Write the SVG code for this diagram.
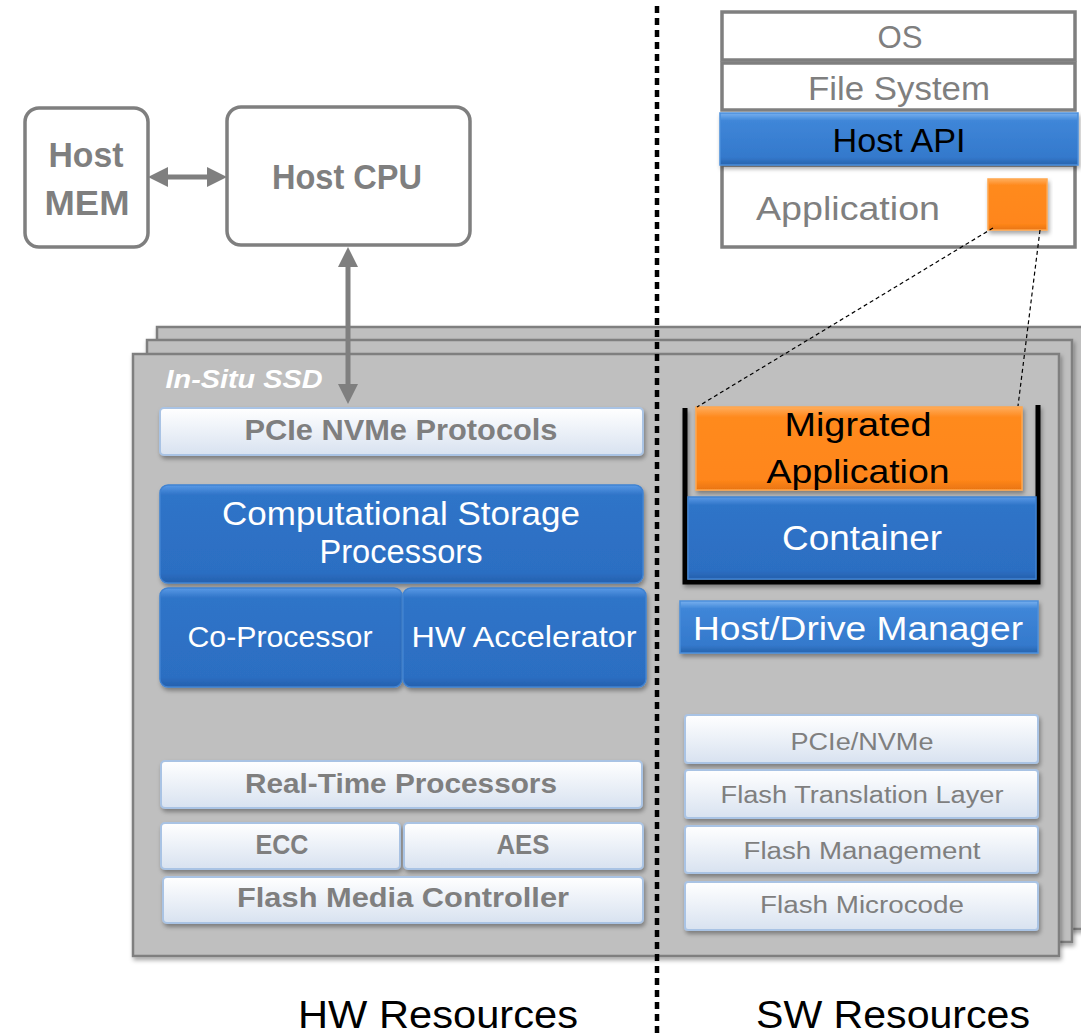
<svg xmlns="http://www.w3.org/2000/svg" width="1081" height="1034" viewBox="0 0 1081 1034">
<defs>
<style>
.t{font-family:"Liberation Sans",Arial,sans-serif;text-anchor:middle}
.g{fill:#7f7f7f}
.w{fill:#ffffff}
.k{fill:#000000}
.b{font-weight:bold}
.host{fill:#ffffff;stroke:#7f7f7f;stroke-width:3.5}
.layer{fill:#bfbfbf;stroke:#7f7f7f;stroke-width:2.5}
.light{fill:url(#lightG);stroke:#a9c3e4;stroke-width:2}
.blue{fill:url(#blueG);stroke:#3f82d2;stroke-width:1.5}
.orange{fill:url(#orangeG);stroke:#ffa64d;stroke-width:1.5}
.cell{fill:#ffffff;stroke:#7f7f7f;stroke-width:3.5}
.arrow{stroke:#7f7f7f;stroke-width:5;fill:none}
.dash{stroke:#000000;stroke-width:1.2;stroke-dasharray:4 3;fill:none}
</style>
<linearGradient id="lightG" x1="0" y1="0" x2="0" y2="1">
<stop offset="0" stop-color="#ffffff"/>
<stop offset="1" stop-color="#d8e2f0"/>
</linearGradient>
<linearGradient id="blueG" x1="0" y1="0" x2="0" y2="1">
<stop offset="0" stop-color="#5a9ae6"/>
<stop offset="0.1" stop-color="#2f74c8"/>
<stop offset="0.9" stop-color="#2c6ec2"/>
<stop offset="1" stop-color="#2560ad"/>
</linearGradient>
<linearGradient id="apiG" x1="0" y1="0" x2="0" y2="1">
<stop offset="0" stop-color="#78b0ef"/>
<stop offset="0.15" stop-color="#3f86d8"/>
<stop offset="0.85" stop-color="#3479cc"/>
<stop offset="1" stop-color="#2663ad"/>
</linearGradient>
<linearGradient id="orangeG" x1="0" y1="0" x2="0" y2="1">
<stop offset="0" stop-color="#ffad5c"/>
<stop offset="0.12" stop-color="#ff8a1e"/>
<stop offset="0.88" stop-color="#ff861a"/>
<stop offset="1" stop-color="#e87410"/>
</linearGradient>
<filter id="sh" x="-10%" y="-10%" width="120%" height="130%">
<feDropShadow dx="1.5" dy="3" stdDeviation="2" flood-color="#000" flood-opacity="0.35"/>
</filter>
<marker id="ah" viewBox="0 0 20 20" refX="0" refY="10" markerWidth="20" markerHeight="20" markerUnits="userSpaceOnUse" orient="auto-start-reverse">
<path d="M0,0 L20,10 L0,20 z" fill="#7f7f7f"/>
</marker>
</defs>
<rect width="1081" height="1034" fill="#ffffff"/>

<g id="ssd-stack">
<rect class="layer" x="157" y="327" width="930" height="602" filter="url(#sh)"/>
<rect class="layer" x="147" y="340" width="925" height="602" filter="url(#sh)"/>
<rect class="layer" x="133" y="354" width="926" height="602" filter="url(#sh)"/>
<text class="t w b" x="244" y="388" font-size="26" font-style="italic" textLength="157" lengthAdjust="spacingAndGlyphs">In-Situ SSD</text>
</g>

<g id="host-mem">
<rect class="host" x="25" y="108" width="123" height="139" rx="14"/>
<text class="t g b" x="86" y="167" font-size="35" textLength="75" lengthAdjust="spacingAndGlyphs">Host</text>
<text class="t g b" x="87" y="215" font-size="35" textLength="85" lengthAdjust="spacingAndGlyphs">MEM</text>
</g>
<g id="host-cpu">
<rect class="host" x="227" y="107" width="243" height="138" rx="14"/>
<text class="t g b" x="347" y="189" font-size="35" textLength="150" lengthAdjust="spacingAndGlyphs">Host CPU</text>
</g>

<g id="sw-stack">
<rect class="cell" x="722" y="12" width="353" height="48"/>
<text class="t g" x="900" y="48" font-size="32" textLength="45" lengthAdjust="spacingAndGlyphs">OS</text>
<rect class="cell" x="722" y="63" width="353" height="47"/>
<text class="t g" x="899" y="100" font-size="33" textLength="182" lengthAdjust="spacingAndGlyphs">File System</text>
<rect class="cell" x="722" y="165" width="353" height="82"/>
<text class="t g" x="848" y="220" font-size="34" textLength="184" lengthAdjust="spacingAndGlyphs">Application</text>
<rect x="720" y="113" width="358" height="52" fill="url(#apiG)" stroke="#4a8edb" stroke-width="1.5" filter="url(#sh)"/>
<text class="t k" x="899" y="152" font-size="33" textLength="133" lengthAdjust="spacingAndGlyphs">Host API</text>
<rect class="orange" x="988" y="179" width="59" height="51" filter="url(#sh)"/>
</g>

<g id="pcie-nvme-protocols">
<rect class="light" x="160" y="408" width="483" height="47" rx="4" filter="url(#sh)"/>
<text class="t g b" x="401" y="440" font-size="30" textLength="313" lengthAdjust="spacingAndGlyphs">PCIe NVMe Protocols</text>
</g>
<g id="computational-storage-processors">
<rect class="blue" x="160" y="485" width="483" height="98" rx="8" filter="url(#sh)"/>
<text class="t w" x="401" y="525" font-size="33" textLength="358" lengthAdjust="spacingAndGlyphs">Computational Storage</text>
<text class="t w" x="401" y="563" font-size="33" textLength="163" lengthAdjust="spacingAndGlyphs">Processors</text>
</g>
<g id="co-processor">
<rect class="blue" x="160" y="588" width="242" height="99" rx="8" filter="url(#sh)"/>
<text class="t w" x="280" y="647" font-size="30" textLength="185" lengthAdjust="spacingAndGlyphs">Co-Processor</text>
</g>
<g id="hw-accelerator">
<rect class="blue" x="403" y="588" width="243" height="99" rx="8" filter="url(#sh)"/>
<text class="t w" x="524" y="647" font-size="30" textLength="225" lengthAdjust="spacingAndGlyphs">HW Accelerator</text>
</g>
<g id="real-time-processors">
<rect class="light" x="161" y="761" width="481" height="47" rx="4" filter="url(#sh)"/>
<text class="t g b" x="401" y="793" font-size="28" textLength="312" lengthAdjust="spacingAndGlyphs">Real-Time Processors</text>
</g>
<g id="ecc">
<rect class="light" x="161" y="823" width="239" height="46" rx="4" filter="url(#sh)"/>
<text class="t g b" x="282" y="854" font-size="28" textLength="53" lengthAdjust="spacingAndGlyphs">ECC</text>
</g>
<g id="aes">
<rect class="light" x="404" y="823" width="239" height="46" rx="4" filter="url(#sh)"/>
<text class="t g b" x="523" y="854" font-size="28" textLength="53" lengthAdjust="spacingAndGlyphs">AES</text>
</g>
<g id="flash-media-controller">
<rect class="light" x="163" y="877" width="480" height="46" rx="4" filter="url(#sh)"/>
<text class="t g b" x="403" y="907" font-size="28" textLength="332" lengthAdjust="spacingAndGlyphs">Flash Media Controller</text>
</g>

<g id="container-bracket">
<polyline points="685,408 685,582 1038,582 1038,405" fill="none" stroke="#000" stroke-width="5" filter="url(#sh)"/>
</g>
<g id="migrated-application">
<rect class="orange" x="696" y="407" width="326" height="83" filter="url(#sh)"/>
<text class="t k" x="858" y="436" font-size="34" textLength="147" lengthAdjust="spacingAndGlyphs">Migrated</text>
<text class="t k" x="858" y="483" font-size="34" textLength="183" lengthAdjust="spacingAndGlyphs">Application</text>
</g>
<g id="container">
<rect class="blue" x="688" y="497" width="348" height="82" filter="url(#sh)"/>
<text class="t w" x="862" y="550" font-size="35" textLength="160" lengthAdjust="spacingAndGlyphs">Container</text>
</g>
<g id="host-drive-manager">
<rect x="680" y="601" width="358" height="52" fill="url(#apiG)" stroke="#4a8edb" stroke-width="1.5" filter="url(#sh)"/>
<text class="t w" x="858" y="640" font-size="34" textLength="330" lengthAdjust="spacingAndGlyphs">Host/Drive Manager</text>
</g>
<g id="pcie-nvme">
<rect class="light" x="685" y="715" width="353" height="48" rx="3" filter="url(#sh)"/>
<text class="t g" x="862" y="750" font-size="23" textLength="143" lengthAdjust="spacingAndGlyphs">PCIe/NVMe</text>
</g>
<g id="flash-translation-layer">
<rect class="light" x="685" y="770" width="353" height="48" rx="3" filter="url(#sh)"/>
<text class="t g" x="862" y="803" font-size="23" textLength="283" lengthAdjust="spacingAndGlyphs">Flash Translation Layer</text>
</g>
<g id="flash-management">
<rect class="light" x="685" y="826" width="353" height="47" rx="3" filter="url(#sh)"/>
<text class="t g" x="862" y="859" font-size="23" textLength="237" lengthAdjust="spacingAndGlyphs">Flash Management</text>
</g>
<g id="flash-microcode">
<rect class="light" x="685" y="882" width="353" height="48" rx="3" filter="url(#sh)"/>
<text class="t g" x="862" y="913" font-size="23" textLength="204" lengthAdjust="spacingAndGlyphs">Flash Microcode</text>
</g>

<g id="divider">
<line x1="657" y1="6" x2="657" y2="1034" stroke="#000" stroke-width="4.5" stroke-dasharray="7 5"/>
</g>

<g id="connectors">
<line class="arrow" x1="168" y1="177" x2="207" y2="177" marker-start="url(#ah)" marker-end="url(#ah)"/>
<line class="arrow" x1="348" y1="267" x2="348" y2="384" marker-start="url(#ah)" marker-end="url(#ah)"/>
<line class="dash" x1="993" y1="228" x2="697" y2="407"/>
<line class="dash" x1="1040" y1="230" x2="1018" y2="406"/>
</g>

<g id="labels">
<text class="t k" x="438" y="1028" font-size="39" textLength="280" lengthAdjust="spacingAndGlyphs">HW Resources</text>
<text class="t k" x="893" y="1028" font-size="39" textLength="274" lengthAdjust="spacingAndGlyphs">SW Resources</text>
</g>
</svg>
